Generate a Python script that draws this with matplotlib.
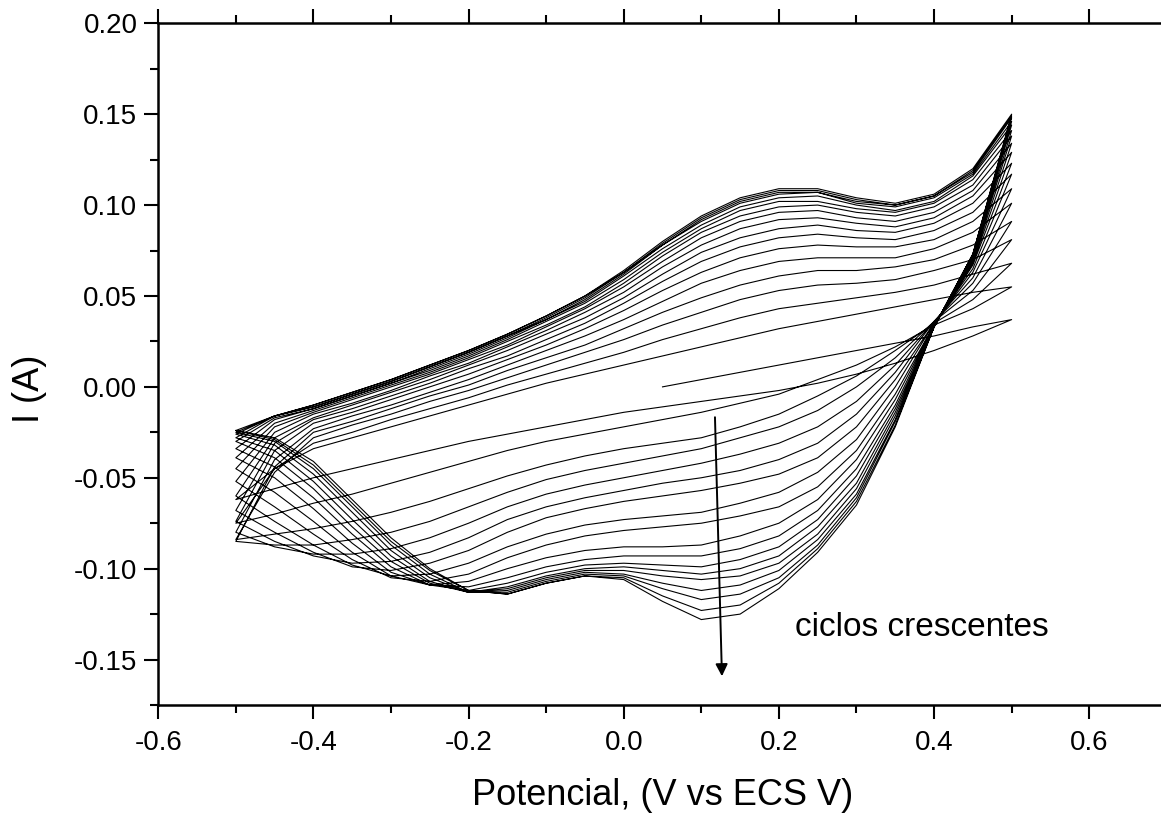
import matplotlib
matplotlib.use("Agg")
import matplotlib.pyplot as plt
from matplotlib.ticker import MultipleLocator, FormatStrFormatter

plt.rcParams['font.family'] = ['Liberation Sans', 'DejaVu Sans']
plt.rcParams['axes.unicode_minus'] = False

# potential grid shared by every sweep (V vs ECS)
potential_up = [-0.50, -0.45, -0.40, -0.35, -0.30, -0.25, -0.20, -0.15, -0.10, -0.05,
                0.00, 0.05, 0.10, 0.15, 0.20, 0.25, 0.30, 0.35, 0.40, 0.45, 0.50]
potential_down = potential_up[::-1]

# first half sweep starts at 0.05 V
first_potential = [0.05, 0.10, 0.15, 0.20, 0.25, 0.30, 0.35, 0.40, 0.45, 0.50]
first_current = [0.000, 0.004, 0.008, 0.012, 0.016, 0.020, 0.024, 0.028, 0.033, 0.037]

# anodic sweeps (-0.5 -> 0.5 V), cycles 2..18
anodic = [
    [-0.062, -0.045, -0.034, -0.028, -0.022, -0.016, -0.010, -0.004, 0.002, 0.007, 0.012, 0.017, 0.022, 0.027, 0.032, 0.036, 0.040, 0.044, 0.048, 0.052, 0.055],
    [-0.075, -0.045, -0.031, -0.025, -0.018, -0.012, -0.006, 0.001, 0.007, 0.013, 0.019, 0.026, 0.032, 0.038, 0.043, 0.046, 0.049, 0.052, 0.056, 0.062, 0.068],
    [-0.084, -0.047, -0.028, -0.021, -0.015, -0.008, -0.002, 0.005, 0.012, 0.019, 0.026, 0.034, 0.041, 0.048, 0.053, 0.056, 0.057, 0.059, 0.064, 0.070, 0.081],
    [-0.085, -0.044, -0.025, -0.019, -0.012, -0.005, 0.001, 0.009, 0.016, 0.023, 0.032, 0.041, 0.049, 0.056, 0.061, 0.064, 0.064, 0.066, 0.070, 0.078, 0.091],
    [-0.080, -0.040, -0.023, -0.016, -0.010, -0.003, 0.004, 0.012, 0.020, 0.028, 0.037, 0.047, 0.057, 0.064, 0.069, 0.071, 0.071, 0.071, 0.076, 0.085, 0.101],
    [-0.074, -0.035, -0.020, -0.014, -0.007, 0.000, 0.007, 0.015, 0.023, 0.032, 0.042, 0.053, 0.063, 0.071, 0.076, 0.078, 0.077, 0.077, 0.081, 0.091, 0.109],
    [-0.068, -0.031, -0.018, -0.012, -0.005, 0.002, 0.010, 0.017, 0.026, 0.035, 0.046, 0.058, 0.069, 0.077, 0.082, 0.084, 0.082, 0.081, 0.086, 0.096, 0.117],
    [-0.060, -0.028, -0.017, -0.010, -0.003, 0.004, 0.012, 0.020, 0.029, 0.038, 0.049, 0.062, 0.074, 0.082, 0.087, 0.089, 0.086, 0.085, 0.090, 0.101, 0.123],
    [-0.052, -0.025, -0.015, -0.009, -0.002, 0.006, 0.013, 0.022, 0.031, 0.041, 0.052, 0.066, 0.078, 0.087, 0.092, 0.093, 0.090, 0.088, 0.093, 0.105, 0.129],
    [-0.045, -0.022, -0.014, -0.007, 0.000, 0.007, 0.015, 0.023, 0.033, 0.043, 0.055, 0.069, 0.082, 0.091, 0.096, 0.097, 0.093, 0.091, 0.096, 0.108, 0.134],
    [-0.039, -0.020, -0.013, -0.006, 0.001, 0.008, 0.016, 0.025, 0.034, 0.044, 0.057, 0.072, 0.085, 0.094, 0.099, 0.100, 0.096, 0.094, 0.099, 0.111, 0.138],
    [-0.034, -0.018, -0.012, -0.005, 0.002, 0.009, 0.017, 0.026, 0.036, 0.046, 0.059, 0.074, 0.087, 0.097, 0.102, 0.102, 0.098, 0.096, 0.101, 0.114, 0.141],
    [-0.030, -0.017, -0.012, -0.005, 0.002, 0.010, 0.018, 0.027, 0.037, 0.047, 0.061, 0.076, 0.089, 0.099, 0.104, 0.105, 0.100, 0.097, 0.102, 0.116, 0.144],
    [-0.028, -0.016, -0.011, -0.004, 0.003, 0.011, 0.019, 0.028, 0.037, 0.048, 0.062, 0.078, 0.091, 0.101, 0.106, 0.107, 0.101, 0.099, 0.104, 0.117, 0.146],
    [-0.026, -0.016, -0.011, -0.004, 0.003, 0.011, 0.019, 0.028, 0.038, 0.049, 0.063, 0.078, 0.092, 0.102, 0.107, 0.107, 0.102, 0.100, 0.105, 0.118, 0.148],
    [-0.025, -0.016, -0.010, -0.003, 0.004, 0.012, 0.020, 0.029, 0.039, 0.050, 0.063, 0.079, 0.093, 0.103, 0.108, 0.108, 0.103, 0.100, 0.105, 0.119, 0.149],
    [-0.024, -0.016, -0.010, -0.003, 0.004, 0.012, 0.020, 0.029, 0.039, 0.050, 0.064, 0.080, 0.094, 0.104, 0.109, 0.109, 0.104, 0.101, 0.106, 0.120, 0.150],
]

# cathodic sweeps (0.5 -> -0.5 V), cycles 1..18
cathodic = [
    [0.037, 0.028, 0.020, 0.013, 0.007, 0.002, -0.002, -0.005, -0.008, -0.011, -0.014, -0.018, -0.022, -0.026, -0.030, -0.035, -0.040, -0.045, -0.050, -0.056, -0.062],
    [0.055, 0.043, 0.034, 0.022, 0.012, 0.004, -0.004, -0.009, -0.014, -0.018, -0.022, -0.026, -0.030, -0.035, -0.041, -0.047, -0.053, -0.059, -0.064, -0.070, -0.075],
    [0.068, 0.048, 0.035, 0.020, 0.006, -0.005, -0.015, -0.022, -0.028, -0.031, -0.034, -0.038, -0.043, -0.049, -0.056, -0.063, -0.069, -0.074, -0.078, -0.081, -0.084],
    [0.081, 0.053, 0.036, 0.016, 0.000, -0.013, -0.022, -0.028, -0.034, -0.038, -0.042, -0.046, -0.051, -0.058, -0.066, -0.074, -0.080, -0.084, -0.087, -0.087, -0.085],
    [0.091, 0.057, 0.036, 0.012, -0.008, -0.022, -0.031, -0.037, -0.042, -0.046, -0.050, -0.054, -0.059, -0.066, -0.075, -0.083, -0.089, -0.092, -0.092, -0.088, -0.080],
    [0.101, 0.060, 0.036, 0.008, -0.015, -0.031, -0.040, -0.046, -0.050, -0.053, -0.057, -0.061, -0.066, -0.073, -0.083, -0.091, -0.096, -0.097, -0.093, -0.085, -0.074],
    [0.109, 0.063, 0.035, 0.004, -0.022, -0.039, -0.048, -0.053, -0.057, -0.060, -0.063, -0.067, -0.072, -0.080, -0.090, -0.097, -0.101, -0.099, -0.091, -0.080, -0.068],
    [0.117, 0.065, 0.035, 0.000, -0.029, -0.047, -0.058, -0.064, -0.069, -0.071, -0.073, -0.076, -0.081, -0.088, -0.097, -0.103, -0.104, -0.098, -0.087, -0.074, -0.060],
    [0.123, 0.067, 0.034, -0.004, -0.035, -0.055, -0.066, -0.071, -0.075, -0.077, -0.079, -0.082, -0.087, -0.094, -0.103, -0.107, -0.105, -0.095, -0.081, -0.066, -0.052],
    [0.129, 0.068, 0.034, -0.007, -0.040, -0.062, -0.075, -0.082, -0.087, -0.088, -0.088, -0.090, -0.094, -0.100, -0.107, -0.109, -0.104, -0.091, -0.074, -0.058, -0.045],
    [0.134, 0.069, 0.034, -0.010, -0.045, -0.068, -0.082, -0.089, -0.093, -0.093, -0.093, -0.095, -0.099, -0.105, -0.110, -0.109, -0.102, -0.086, -0.067, -0.050, -0.039],
    [0.138, 0.070, 0.033, -0.012, -0.049, -0.073, -0.088, -0.095, -0.099, -0.098, -0.097, -0.098, -0.102, -0.108, -0.112, -0.109, -0.099, -0.081, -0.061, -0.044, -0.034],
    [0.141, 0.071, 0.033, -0.014, -0.053, -0.077, -0.093, -0.100, -0.103, -0.101, -0.099, -0.100, -0.104, -0.110, -0.113, -0.108, -0.096, -0.077, -0.056, -0.039, -0.030],
    [0.144, 0.072, 0.033, -0.016, -0.056, -0.081, -0.097, -0.104, -0.106, -0.104, -0.101, -0.101, -0.105, -0.111, -0.113, -0.107, -0.093, -0.073, -0.052, -0.035, -0.028],
    [0.146, 0.072, 0.033, -0.018, -0.059, -0.084, -0.101, -0.109, -0.112, -0.108, -0.103, -0.102, -0.106, -0.112, -0.113, -0.105, -0.090, -0.069, -0.048, -0.032, -0.026],
    [0.148, 0.073, 0.033, -0.019, -0.061, -0.087, -0.105, -0.114, -0.117, -0.111, -0.104, -0.103, -0.107, -0.113, -0.113, -0.103, -0.087, -0.066, -0.045, -0.030, -0.025],
    [0.149, 0.073, 0.033, -0.021, -0.063, -0.089, -0.108, -0.120, -0.123, -0.115, -0.105, -0.104, -0.108, -0.114, -0.112, -0.101, -0.085, -0.064, -0.043, -0.029, -0.024],
    [0.150, 0.073, 0.033, -0.022, -0.065, -0.091, -0.111, -0.125, -0.128, -0.118, -0.106, -0.104, -0.108, -0.114, -0.112, -0.100, -0.083, -0.062, -0.041, -0.028, -0.024],
]

# one continuous voltammogram: first half sweep, then alternating sweeps
E = list(first_potential)
I = list(first_current)
for n, down in enumerate(cathodic):
    E += potential_down
    I += down
    if n < len(anodic):
        E += potential_up
        I += anodic[n]

fig = plt.figure(figsize=(11.61, 8.14), dpi=100)
ax = fig.add_axes([0.1363, 0.1339, 0.8687, 0.8375])

ax.plot(E, I, color='black', lw=0.8, solid_joinstyle='round')

ax.set_xlim(-0.6, 0.7)
ax.set_ylim(-0.175, 0.20)
ax.xaxis.set_major_locator(MultipleLocator(0.2))
ax.xaxis.set_minor_locator(MultipleLocator(0.1))
ax.yaxis.set_major_locator(MultipleLocator(0.05))
ax.yaxis.set_minor_locator(MultipleLocator(0.025))
ax.xaxis.set_major_formatter(FormatStrFormatter('%.1f'))
ax.yaxis.set_major_formatter(FormatStrFormatter('%.2f'))

ax.spines['right'].set_visible(False)
for s in ['left', 'bottom', 'top']:
    ax.spines[s].set_linewidth(1.8)

ax.tick_params(which='both', direction='out', top=True, width=1.5, labelsize=20)
ax.tick_params(which='major', length=10)
ax.tick_params(which='minor', length=5.5)
ax.tick_params(axis='x', pad=8)
ax.tick_params(axis='y', pad=5)

fig.text(662.5 / 1161, 1 - 805 / 814, 'Potencial, (V vs ECS V)',
         ha='center', va='baseline', fontsize=26)
fig.text(29.5 / 1161, 1 - 388.5 / 814, 'I (A)', rotation=90,
         ha='center', va='center', fontsize=26)

ax.annotate('', xy=(0.1266, -0.1592), xytext=(0.1176, -0.0167),
            arrowprops=dict(arrowstyle='-|>', color='black', lw=1.4,
                            mutation_scale=18, shrinkA=0, shrinkB=0))
ax.text(0.2207, -0.1372, 'ciclos crescentes', fontsize=24,
        ha='left', va='baseline')

fig.savefig('out.png', dpi=100)
